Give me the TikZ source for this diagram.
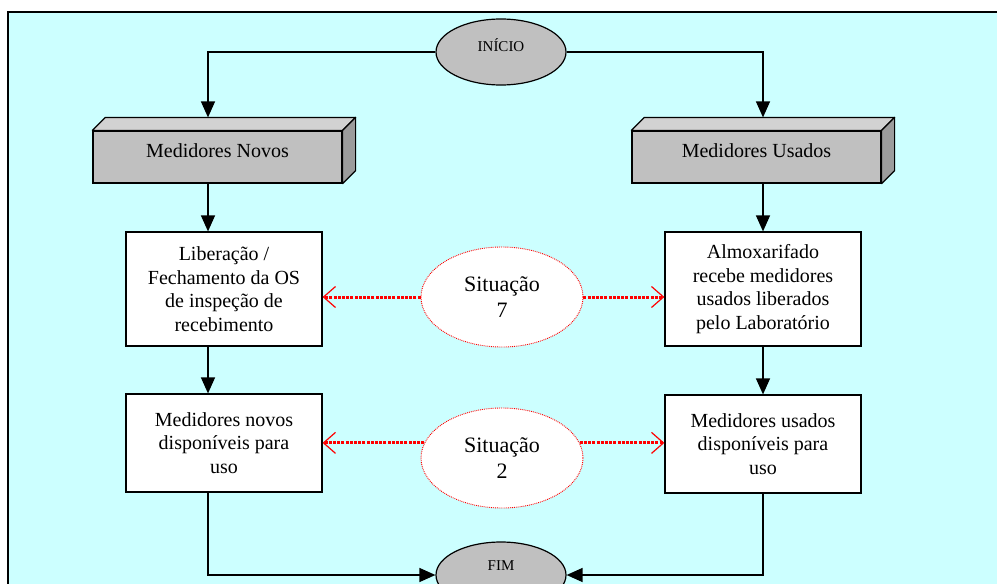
\documentclass[tikz,border=0pt]{standalone}
\usepackage{fontspec}
\setmainfont{Liberation Serif}
\usetikzlibrary{arrows.meta,shapes.geometric}
\definecolor{bgcyan}{HTML}{CCFFFF}
\definecolor{facefront}{HTML}{C0C0C0}
\definecolor{facetop}{HTML}{D2D2D2}
\definecolor{faceside}{HTML}{9C9C9C}
\definecolor{termfill}{HTML}{C0C0C0}
\begin{document}
\begin{tikzpicture}[x=1pt,y=-1pt,
  terminal/.style={ellipse,draw=black,line width=1.2pt,fill=termfill,
    minimum width=130pt,minimum height=66pt,inner sep=0pt},
  termtext/.style={font={\fontsize{15pt}{17pt}\selectfont}},
  front/.style={rectangle,draw=black,line width=1.2pt,fill=facefront,
    minimum width=249pt,minimum height=52pt,inner sep=0pt},
  fronttext/.style={font={\fontsize{20pt}{23pt}\selectfont}},
  stepbox/.style={rectangle,draw=black,line width=1.2pt,fill=white,
    minimum width=196pt,inner sep=0pt,align=center,
    font={\fontsize{20pt}{23.6pt}\selectfont}},
  situation/.style={ellipse,draw=red,line width=0.9pt,densely dotted,fill=white,
    minimum width=162pt,minimum height=100pt,inner sep=0pt,align=center,
    font={\fontsize{22pt}{26.5pt}\selectfont}},
  flow/.style={line width=1.4pt,-{Triangle[length=16pt,width=14pt]}},
  link/.style={red,line width=3pt,dash pattern=on 3pt off 1.2pt,
    -{Straight Barb[length=12pt,width=21pt,line width=1.2pt]}},
  facestyle/.style={draw=black,line width=1.2pt,line join=round}
]
\useasboundingbox (0,0) rectangle (997,584);
% background panel and its frame
\fill[bgcyan] (8,12) rectangle (997,584);
\draw[line width=2pt] (8,584) -- (8,12) -- (997,12);

% column guides for the vertical connectors
\coordinate (lx) at (208,0);
\coordinate (rx) at (763,0);

% start / end terminals
\node[terminal,label={[termtext,yshift=7pt]center:INÍCIO}] (inicio) at (501,52) {};
\node[terminal,label={[termtext,yshift=9pt]center:FIM}] (fim) at (501,575) {};

% raised boxes: front face as node, top and side faces drawn from its anchors
\node[front,label={[fronttext,yshift=6pt]center:Medidores Novos}] (novos) at (217.5,157) {};
\node[front,label={[fronttext,yshift=6pt]center:Medidores Usados}] (usados) at (756.5,157) {};
\foreach \b in {novos,usados}{
  \filldraw[facestyle,fill=facetop] (\b.north west) -- ++(13,-13)
     -- ([shift={(13,-13)}]\b.north east) -- (\b.north east) -- cycle;
  \filldraw[facestyle,fill=faceside] (\b.north east) -- ++(13,-13)
     -- ([shift={(13,-13)}]\b.south east) -- (\b.south east) -- cycle;
}
\coordinate (novostop) at ([yshift=13pt]novos.north -| lx);
\coordinate (usadostop) at ([yshift=13pt]usados.north -| rx);

% process steps
\node[stepbox,minimum height=114pt] (liber) at (224,289)
  {Liberação /\\Fechamento da OS\\de inspeção de\\recebimento};
\node[stepbox,minimum height=114pt] (almox) at (763,289)
  {Almoxarifado\\recebe medidores\\usados liberados\\pelo Laboratório};
\node[stepbox,minimum height=98pt] (novosdisp) at (224,443)
  {Medidores novos\\disponíveis para\\uso};
\node[stepbox,minimum height=98pt] (usadosdisp) at (763,444)
  {Medidores usados\\disponíveis para\\uso};

% situations
\node[situation] (sit7) at (502,297) {Situação\\7};
\node[situation] (sit2) at (502,458) {Situação\\2};

% main flow
\draw[flow] (inicio.west) -| (novostop);
\draw[flow] (inicio.east) -| (usadostop);
\draw[flow] (novos.south -| lx) -- (liber.north -| lx);
\draw[flow] (usados.south -| rx) -- (almox.north -| rx);
\draw[flow] (liber.south -| lx) -- (novosdisp.north -| lx);
\draw[flow] (almox.south -| rx) -- (usadosdisp.north -| rx);
\draw[flow] (novosdisp.south -| lx) |- (fim.west);
\draw[flow] (usadosdisp.south -| rx) |- (fim.east);

% links from the situations to the steps
\draw[link] (sit7.west) -- (sit7.west -| liber.east);
\draw[link] (sit7.east) -- (sit7.east -| almox.west);
\draw[link] (sit2.169) -- (sit2.169 -| novosdisp.east);
\draw[link] (sit2.11) -- (sit2.11 -| usadosdisp.west);
\end{tikzpicture}
\end{document}
